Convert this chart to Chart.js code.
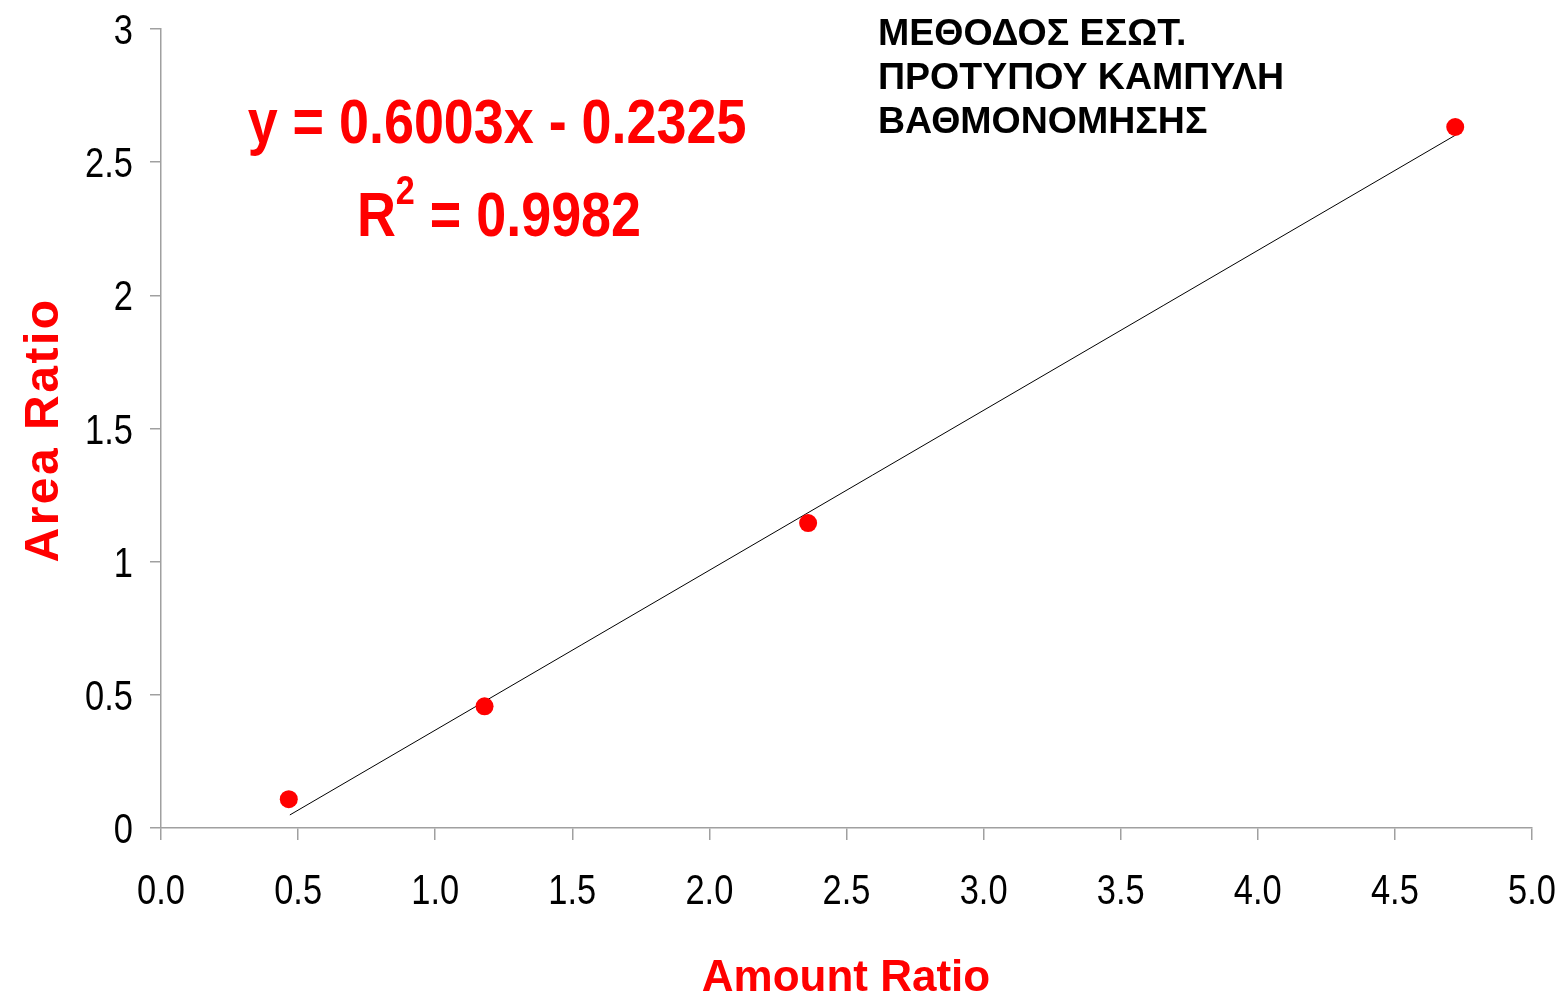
<!DOCTYPE html>
<html>
<head>
<meta charset="utf-8">
<script src="https://cdn.jsdelivr.net/npm/chart.js@4"></script>
<style>
  html, body { margin: 0; padding: 0; background: #fff; }
  #wrap { width: 1566px; height: 1004px; }
</style>
</head>
<body>
<div id="wrap"><canvas id="calChart" width="1566" height="1004"></canvas></div>
<script>
// Données de la courbe d'étalonnage
const amountRatio = [0.466, 1.18, 2.36, 4.72];
const areaRatio = [0.108, 0.457, 1.145, 2.632];
// Droite de tendance : extrémités
const trendX = [0.47, 4.72];
const trendY = [0.049, 2.601];
// Textes
const equationText = 'y = 0.6003x - 0.2325';
const r2Text = ' = 0.9982';
const titleLines = ['ΜΕΘΟΔΟΣ ΕΣΩΤ.', 'ΠΡΟΤΥΠΟΥ ΚΑΜΠΥΛΗ', 'ΒΑΘΜΟΝΟΜΗΣΗΣ'];
const xTitle = 'Amount Ratio';
const yTitle = 'Area Ratio';

const sans = "'Liberation Sans', Arial, sans-serif";
const squeeze = 0.82;    // pas de police "narrow" installée : on compresse
const eqSqueeze = 0.855; // l'équation est un peu plus large

// Texte compressé horizontalement (façon Arial Narrow)
function narrowText(ctx, text, x, y, k = squeeze) {
    ctx.save();
    ctx.translate(x, y);
    ctx.scale(k, 1);
    ctx.fillText(text, 0, 0);
    ctx.restore();
}

// Étiquettes des graduations + textes dessinés par-dessus le graphique
const textPlugin = {
    id: 'texts',
    afterDraw(chart) {
        const ctx = chart.ctx;
        const xs = chart.scales.x;
        const ys = chart.scales.y;
        ctx.save();
        ctx.fillStyle = '#000';
        ctx.font = '42px ' + sans;
        ctx.textBaseline = 'alphabetic';
        // Graduations X
        ctx.textAlign = 'center';
        xs.ticks.forEach(t => narrowText(ctx, t.value.toFixed(1), xs.getPixelForValue(t.value), 904));
        // Graduations Y
        ctx.textAlign = 'right';
        ys.ticks.forEach(t => narrowText(ctx, String(t.value), 133, ys.getPixelForValue(t.value) + 15));

        // Equation
        ctx.fillStyle = '#ff0000';
        ctx.font = 'bold 63px ' + sans;
        ctx.textAlign = 'center';
        narrowText(ctx, equationText, 497, 143, eqSqueeze);
        // R²
        ctx.textAlign = 'left';
        const wR = ctx.measureText('R').width * eqSqueeze;
        const wRest = ctx.measureText(r2Text).width * eqSqueeze;
        ctx.font = 'bold 40px ' + sans;
        const wSup = ctx.measureText('2').width * eqSqueeze;
        const x0 = 499 - (wR + wSup + wRest) / 2;
        ctx.font = 'bold 63px ' + sans;
        narrowText(ctx, 'R', x0, 236, eqSqueeze);
        ctx.font = 'bold 40px ' + sans;
        narrowText(ctx, '2', x0 + wR, 204, eqSqueeze);
        ctx.font = 'bold 63px ' + sans;
        narrowText(ctx, r2Text, x0 + wR + wSup, 236, eqSqueeze);

        // Titre
        ctx.fillStyle = '#000';
        ctx.font = 'bold 37.5px ' + sans;
        titleLines.forEach((line, i) => ctx.fillText(line, 878, 45 + i * 44));

        // Titres des axes
        ctx.fillStyle = '#ff0000';
        ctx.font = 'bold 44px ' + sans;
        ctx.textAlign = 'center';
        ctx.fillText(xTitle, 846, 991);
        ctx.translate(58, 430);
        ctx.rotate(-Math.PI / 2);
        ctx.font = 'bold 48px ' + sans;
        ctx.letterSpacing = '2.5px';
        ctx.fillText(yTitle, 0, 0);
        ctx.restore();
    }
};

const ctx = document.getElementById('calChart').getContext('2d');
const config = {
    type: 'scatter',
    data: {
        datasets: [
            {
                data: amountRatio.map((x, i) => ({ x: x, y: areaRatio[i] })),
                backgroundColor: '#ff0000',
                borderWidth: 0,
                pointRadius: 9,
                pointHoverRadius: 9
            },
            {
                type: 'line',
                data: trendX.map((x, i) => ({ x: x, y: trendY[i] })),
                borderColor: '#000',
                borderWidth: 1,
                pointRadius: 0,
                fill: false
            }
        ]
    },
    plugins: [textPlugin],
    options: {
        responsive: false,
        animation: false,
        layout: { padding: { top: 29, right: 34, left: 0, bottom: 0 } },
        plugins: {
            legend: { display: false },
            tooltip: { enabled: false }
        },
        scales: {
            x: {
                type: 'linear',
                min: 0,
                max: 5,
                border: { color: '#a0a0a0', width: 1.5 },
                grid: { drawOnChartArea: false, tickLength: 12, color: '#a0a0a0', lineWidth: 1.5 },
                ticks: { stepSize: 0.5, display: false },
                afterFit: scale => { scale.height = 176; }
            },
            y: {
                min: 0,
                max: 3,
                border: { color: '#a0a0a0', width: 1.5 },
                grid: { drawOnChartArea: false, tickLength: 11, color: '#a0a0a0', lineWidth: 1.5 },
                ticks: { stepSize: 0.5, display: false },
                afterFit: scale => { scale.width = 161; }
            }
        }
    }
};
const calChart = new Chart(ctx, config);
</script>
</body>
</html>
